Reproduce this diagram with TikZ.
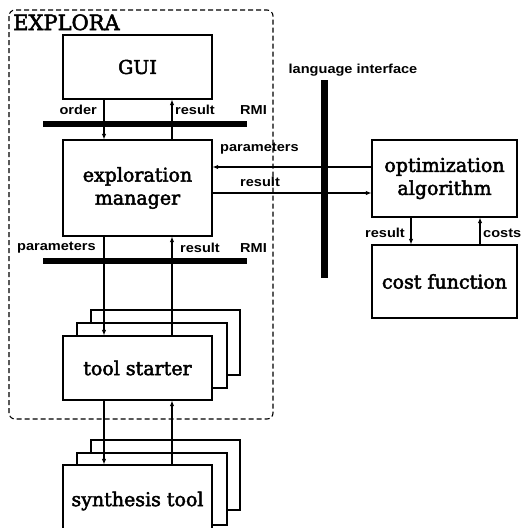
\documentclass[tikz,border=0pt]{standalone}
\usepackage{graphicx}
\usepackage{fontspec}
\setmainfont{DejaVu Serif}[FakeBold=2.5]
\newfontfamily\labfont{Liberation Sans}
\usetikzlibrary{arrows.meta}
\newcommand\lbx[1]{\scalebox{1.12}[1]{#1}}
\begin{document}
\begin{tikzpicture}[x=1pt,y=-1pt,
  box/.style={draw, line width=1.1pt, fill=white, inner sep=0pt, align=center,
    font=\fontsize{19}{23}\selectfont},
  bar/.style={fill=black, inner sep=0pt},
  lab/.style={font=\labfont\bfseries\fontsize{13}{15}\selectfont, inner sep=0pt},
  arr/.style={line width=1.1pt, -{Latex[length=5.5pt,width=4.5pt]}},
  frame/.style={dashed, dash pattern=on 5pt off 3pt, line width=1.1pt, rounded corners=6pt}]
\useasboundingbox (0,0) rectangle (522,528);
\clip (0,0) rectangle (522,528);

% dashed frame
\draw[frame] (9,10) rectangle (273,419);
\node[anchor=base west, inner sep=0pt, font=\fontsize{21}{24}\selectfont] (explora) at (13,30) {EXPLORA};

% named coordinates
\coordinate (xL) at (104,0);
\coordinate (xR) at (172,0);
\coordinate (xo) at (411,0);
\coordinate (xc) at (480,0);
\coordinate (yp) at (0,167);
\coordinate (yr) at (0,193);

% boxes
\node[box, minimum width=149pt, minimum height=64pt] (gui) at (137.5,67) {GUI};
\node[box, minimum width=149pt, minimum height=96pt] (mgr) at (137.5,188) {exploration\\manager};
\node[box, minimum width=145pt, minimum height=77pt] (opt) at (444.5,178.5) {optimization\\algorithm};
\node[box, minimum width=145pt, minimum height=73pt] (cost) at (444.5,281.5) {cost function};

% tool starter stack
\node[box, minimum width=149pt, minimum height=65pt] (ts3) at (165.5,342.5) {};
\node[box, minimum width=150pt, minimum height=65pt] (ts2) at (152,355.5) {};
\node[box, minimum width=149pt, minimum height=64pt] (ts) at (137.5,368) {tool starter};

% synthesis tool stack
\node[box, minimum width=149pt, minimum height=70pt] (syn3) at (165.5,475) {};
\node[box, minimum width=150pt, minimum height=72pt] (syn2) at (152,489) {};
\node[box, minimum width=149pt, minimum height=72pt] (syn) at (137.5,501) {synthesis tool};

% bars
\node[bar, minimum width=204pt, minimum height=6pt] (bar1) at (145,124) {};
\node[bar, minimum width=204pt, minimum height=6pt] (bar2) at (145,261) {};
\node[bar, minimum width=7pt, minimum height=198pt] (li) at (324.5,179) {};

% connectors
\draw[arr] (gui.south -| xL) -- (mgr.north -| xL);
\draw[arr] (mgr.north -| xR) -- (gui.south -| xR);
\draw[arr] (opt.west |- yp) -- (mgr.east |- yp);
\draw[arr] (mgr.east |- yr) -- (opt.west |- yr);
\draw[arr] (mgr.south -| xL) -- (ts.north -| xL);
\draw[arr] (ts.north -| xR) -- (mgr.south -| xR);
\draw[arr] (ts.south -| xL) -- (syn.north -| xL);
\draw[arr] (syn.north -| xR) -- (ts.south -| xR);
\draw[arr] (opt.south -| xo) -- (cost.north -| xo);
\draw[arr] (cost.north -| xc) -- (opt.south -| xc);

% labels
\node[lab, anchor=east] (lorder) at (97,110) {\lbx{order}};
\node[lab, anchor=west] (lres1) at (175,110) {\lbx{result}};
\node[lab, anchor=west] (lrmi1) at (240,110) {\lbx{RMI}};
\node[lab, anchor=west] (lpar) at (220,149) {\lbx{parameters}};
\node[lab, anchor=west] (lres) at (240,182) {\lbx{result}};
\node[lab] (lli) at (353,70) {\lbx{language interface}};
\node[lab, anchor=east] (lreso) at (405,233) {\lbx{result}};
\node[lab, anchor=west] (lcost) at (483,233) {\lbx{costs}};
\node[lab, anchor=west] (lpar2) at (17,248) {\lbx{parameters}};
\node[lab, anchor=west] (lres2) at (180,248) {\lbx{result}};
\node[lab, anchor=west] (lrmi2) at (240,248) {\lbx{RMI}};
\end{tikzpicture}
\end{document}
